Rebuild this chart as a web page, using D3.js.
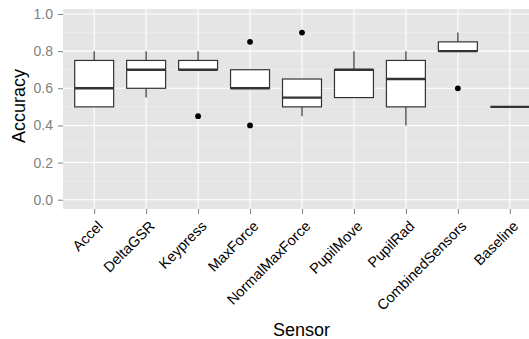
<!DOCTYPE html>
<html>
<head>
<meta charset="utf-8">
<script src="https://cdn.jsdelivr.net/npm/d3@7"></script>
<style>
  body { margin: 0; background: #fff; }
  svg { display: block; font-family: "Liberation Sans", Arial, sans-serif; }
</style>
</head>
<body>
<svg id="chart"></svg>
<script>
const sensors = ["Accel", "DeltaGSR", "Keypress", "MaxForce", "NormalMaxForce", "PupilMove", "PupilRad", "CombinedSensors", "Baseline"]
const lower  = [0.50, 0.55, 0.70, 0.60, 0.45, 0.55, 0.40, 0.80, 0.50]
const q1     = [0.50, 0.60, 0.70, 0.60, 0.50, 0.55, 0.50, 0.80, 0.50]
const median = [0.60, 0.70, 0.70, 0.60, 0.55, 0.70, 0.65, 0.80, 0.50]
const q3     = [0.75, 0.75, 0.75, 0.70, 0.65, 0.70, 0.75, 0.85, 0.50]
const upper  = [0.80, 0.80, 0.80, 0.70, 0.65, 0.80, 0.80, 0.90, 0.50]
const outliers = [[], [], [0.45], [0.85, 0.40], [0.90], [], [], [0.60], []]
const yTicks = [0, 0.2, 0.4, 0.6, 0.8, 1.0]
const yMinor = [0.1, 0.3, 0.5, 0.7, 0.9]

const width = 529, height = 339
const margin = { top: 9, right: -12, bottom: 130, left: 63 }

const data = sensors.map((s, i) => ({
  sensor: s, lower: lower[i], q1: q1[i], median: median[i], q3: q3[i], upper: upper[i], out: outliers[i]
}))

// discrete scale with 0.6 expansion on each side, like ggplot
const x = d3.scalePoint()
    .domain(sensors)
    .range([margin.left, width - margin.right])
    .padding(0.6)
const boxW = x.step() * 0.75

const y = d3.scaleLinear()
    .domain([-0.05, 1.027])
    .range([height - margin.bottom, margin.top])

const svg = d3.select("#chart")
    .attr("width", width)
    .attr("height", height)
    .attr("viewBox", [0, 0, width, height])

// panel
svg.append("rect")
    .attr("x", margin.left)
    .attr("y", margin.top)
    .attr("width", width - margin.right - margin.left)
    .attr("height", height - margin.bottom - margin.top)
    .attr("fill", "#e5e5e5")

svg.append("g")
    .attr("stroke", "#f2f2f2")
    .attr("stroke-width", 0.6)
  .selectAll("line")
  .data(yMinor)
  .join("line")
    .attr("x1", margin.left)
    .attr("x2", width - margin.right)
    .attr("y1", d => y(d))
    .attr("y2", d => y(d))

svg.append("g")
    .attr("stroke", "#fff")
    .attr("stroke-width", 1.1)
    .call(g => g.selectAll("line.h")
      .data(yTicks)
      .join("line")
        .attr("class", "h")
        .attr("x1", margin.left)
        .attr("x2", width - margin.right)
        .attr("y1", d => y(d))
        .attr("y2", d => y(d)))
    .call(g => g.selectAll("line.v")
      .data(sensors)
      .join("line")
        .attr("class", "v")
        .attr("x1", d => x(d))
        .attr("x2", d => x(d))
        .attr("y1", margin.top)
        .attr("y2", height - margin.bottom))

// boxes
const box = svg.append("g")
  .selectAll("g")
  .data(data)
  .join("g")
    .attr("transform", d => `translate(${x(d.sensor)},0)`)

box.append("line")
    .attr("stroke", "#333")
    .attr("stroke-width", 1.2)
    .attr("y1", d => y(d.upper))
    .attr("y2", d => y(d.q3))

box.append("line")
    .attr("stroke", "#333")
    .attr("stroke-width", 1.2)
    .attr("y1", d => y(d.q1))
    .attr("y2", d => y(d.lower))

box.append("rect")
    .attr("x", -boxW / 2)
    .attr("width", boxW)
    .attr("y", d => y(d.q3))
    .attr("height", d => y(d.q1) - y(d.q3))
    .attr("fill", "#fff")
    .attr("stroke", "#333")
    .attr("stroke-width", 1.2)

box.append("line")
    .attr("stroke", "#333")
    .attr("stroke-width", 2.4)
    .attr("x1", -boxW / 2)
    .attr("x2", boxW / 2)
    .attr("y1", d => y(d.median))
    .attr("y2", d => y(d.median))

box.selectAll("circle")
  .data(d => d.out)
  .join("circle")
    .attr("cy", d => y(d))
    .attr("r", 2.9)
    .attr("fill", "#000")

// axes
const yAxis = g => g
    .attr("transform", `translate(${margin.left},0)`)
    .call(d3.axisLeft(y).tickValues(yTicks).tickFormat(d3.format(".1f")).tickSize(5).tickPadding(5))
    .call(g => g.select(".domain").remove())
    .call(g => g.selectAll(".tick line").attr("stroke", "#7f7f7f"))
    .call(g => g.selectAll(".tick text")
        .attr("fill", "#7f7f7f")
        .attr("font-size", 14))

const xAxis = g => g
    .attr("transform", `translate(0,${height - margin.bottom})`)
    .call(d3.axisBottom(x).tickSize(5).tickSizeOuter(0))
    .call(g => g.select(".domain").remove())
    .call(g => g.selectAll(".tick line").attr("stroke", "#7f7f7f"))
    .call(g => g.selectAll(".tick text")
        .attr("fill", "#000")
        .attr("font-size", 14.5)
        .style("text-anchor", "end")
        .attr("x", 0)
        .attr("y", 0)
        .attr("dy", 0)
        .attr("transform", "translate(9,18) rotate(-45)"))

svg.append("g").call(yAxis)
svg.append("g").call(xAxis)

svg.append("text")
    .attr("transform", `translate(24.5,106) rotate(-90)`)
    .attr("text-anchor", "middle")
    .attr("font-size", 18)
    .attr("fill", "#000")
    .text("Accuracy")

svg.append("text")
    .attr("x", 301.5)
    .attr("y", 335.5)
    .attr("text-anchor", "middle")
    .attr("font-size", 18)
    .attr("fill", "#000")
    .text("Sensor")
</script>
</body>
</html>
